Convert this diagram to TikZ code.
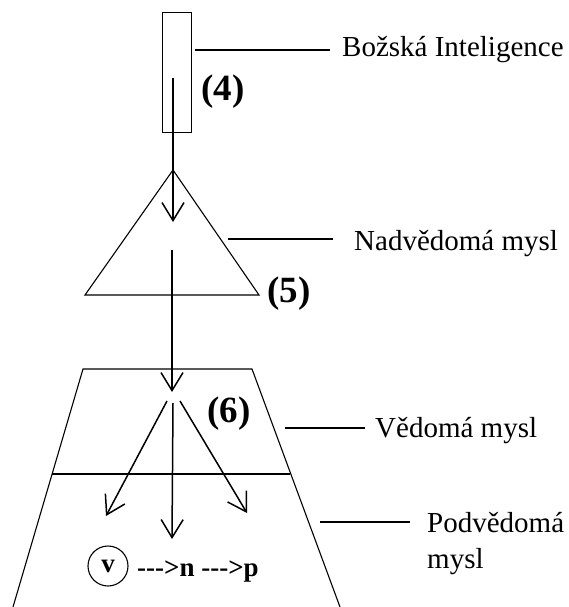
\documentclass[tikz,border=0pt]{standalone}
\usepackage{fontspec}
\setmainfont{Liberation Serif}
\usetikzlibrary{arrows.meta}
\begin{document}
\begin{tikzpicture}[x=1pt,y=-1pt,
  every node/.style={inner sep=0pt},
  outline/.style={line width=1.1pt},
  arr/.style={line width=1.5pt,-{Straight Barb[length=18pt,width=22pt,line width=1.5pt]}},
  lead/.style={line width=1.1pt},
  lbl/.style={anchor=base west,font=\fontsize{29}{34}\selectfont},
  num/.style={font=\fontsize{37}{40}\selectfont\bfseries}]
\useasboundingbox (0,0) rectangle (569,607);
% box (4)
\node[draw,outline,minimum width=29pt,minimum height=120pt,anchor=north west] (box) at (162,12) {};
\node[num] (n4) at (223,92) {(4)};
% triangle (5)
\coordinate (tA) at (173,170);
\coordinate (tL) at (85,295);
\coordinate (tR) at (259,295);
\draw[outline,line join=miter] (tA) -- (tL) -- (tR) -- cycle;
\node[num] (n5) at (289,294) {(5)};
% trapezoid
\coordinate (zTL) at (83,369);
\coordinate (zTR) at (252,369);
\coordinate (zBL) at (13,607);
\coordinate (zBR) at (340,607);
\coordinate (zML) at (52,474);
\coordinate (zMR) at (290,474);
\draw[outline] (zBL) -- (zTL) -- (zTR) -- (zBR);
\draw[outline] (zML) -- (zMR);
\node[num] (n6) at (229,414) {(6)};
% flow arrows
\coordinate (f1a) at (173,78);
\coordinate (f1b) at (173,222);
\coordinate (f2a) at (172,250);
\coordinate (f2b) at (172,392);
\draw[arr] (f1a) -- (f1b);
\draw[arr] (f2a) -- (f2b);
\coordinate (s1) at (167,401);
\coordinate (s2) at (173,403);
\coordinate (s3) at (180,401);
\coordinate (e1) at (106,516);
\coordinate (e2) at (172,539);
\coordinate (e3) at (247,513);
\draw[arr] (s1) -- (e1);
\draw[arr] (s2) -- (e2);
\draw[arr] (s3) -- (e3);
% v ---> n ---> p
\node[circle,draw,line width=1.1pt,minimum size=40pt,font=\fontsize{27}{30}\selectfont\bfseries] (v) at (108,566) {v};
\node[lbl,font=\fontsize{27}{30}\selectfont\bfseries] (vnp) at (137,576) {-{}-{}->n -{}-{}->p};
% labels
\node[lbl] (bi) at (342,57) {Božská Inteligence};
\node[lbl] (nm) at (354,250) {Nadvědomá mysl};
\node[lbl] (vm) at (375,437) {Vědomá mysl};
\node[lbl] (pm) at (427,532) {Podvědomá};
\node[lbl] (pm2) at (427,568) {mysl};
% leader lines
\coordinate (l1) at (195,50);
\coordinate (l1e) at (330,50);
\coordinate (l2) at (228,239);
\coordinate (l2e) at (333,239);
\coordinate (l3) at (285,428);
\coordinate (l3e) at (365,428);
\coordinate (l4) at (320,522);
\coordinate (l4e) at (410,522);
\draw[lead] (l1) -- (l1e);
\draw[lead] (l2) -- (l2e);
\draw[lead] (l3) -- (l3e);
\draw[lead] (l4) -- (l4e);
\end{tikzpicture}
\end{document}
